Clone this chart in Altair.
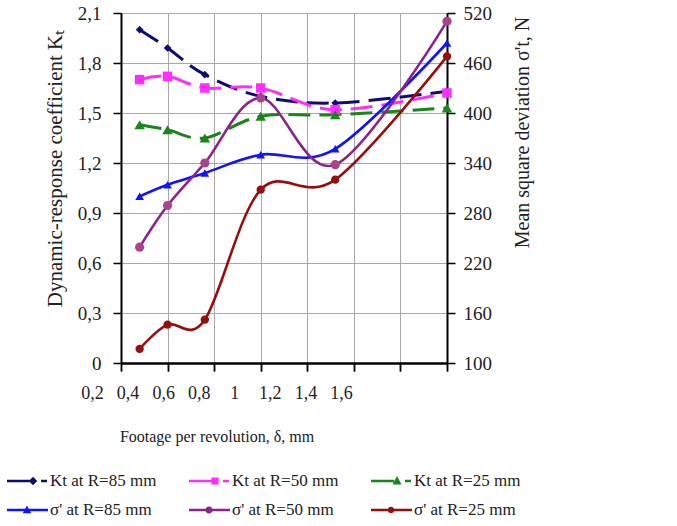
import altair as alt
import pandas as pd

# ---------------- data ----------------
x_vals = [0.28, 0.4, 0.56, 0.8, 1.12, 1.6]
kt_r85 = [2.00, 1.89, 1.73, 1.60, 1.56, 1.63]
kt_r50 = [1.70, 1.72, 1.65, 1.65, 1.52, 1.62]
kt_r25 = [1.43, 1.40, 1.35, 1.48, 1.49, 1.53]
sig_r85 = [300, 314, 328, 350, 357, 484]
sig_r50 = [239, 289, 340, 418, 338, 510]
sig_r25 = [117, 146, 152, 308, 320, 468]

series_names = ["Kt at R=85 mm", "Kt at R=50 mm", "Kt at R=25 mm",
                "σ' at R=85 mm", "σ' at R=50 mm", "σ' at R=25 mm"]
x_ticks = [0.2, 0.4, 0.6, 0.8, 1.0, 1.2, 1.4, 1.6]
left_ticks = [0, 0.3, 0.6, 0.9, 1.2, 1.5, 1.8, 2.1]
right_ticks = [100, 160, 220, 280, 340, 400, 460, 520]

kt_values = [kt_r85, kt_r50, kt_r25]
sig_values = [sig_r85, sig_r50, sig_r25]

kt_df = pd.DataFrame([{"series": series_names[i], "x": x, "value": v}
                      for i, vals in enumerate(kt_values) for x, v in zip(x_vals, vals)])
sig_df = pd.DataFrame([{"series": series_names[3 + i], "x": x, "value": v}
                       for i, vals in enumerate(sig_values) for x, v in zip(x_vals, vals)])
tick_df = pd.DataFrame({"x": x_ticks})
legend_df = pd.DataFrame({"series": series_names})

# ---------------- styles ----------------
FONT = "Liberation Serif"
line_colors = ["#0C0C72", "#FF2EFF", "#1C841C", "#1212FF", "#8A248A", "#970E0E"]
marker_colors = ["#0C0C72", "#FF2EFF", "#1C841C", "#1212FF", "#A8448C", "#970E0E"]
marker_shapes = ["diamond", "square", "triangle-up", "triangle-up", "circle", "circle"]
marker_sizes = [60, 90, 110, 75, 85, 70]
GRID = "#A8A8A8"
LABEL_EXPR = "replace(toString(round(datum.value*10)/10), '.', ',')"

x_scale = alt.Scale(domain=[0.2, 1.6], nice=False, zero=False)
x_axis = alt.Axis(values=x_ticks, labels=False, title=None, grid=True, gridColor=GRID,
                  gridWidth=1, domainColor="black", domainWidth=2, tickColor="black",
                  tickSize=8, tickWidth=1.5, orient="bottom")
left_axis = alt.Axis(values=left_ticks, orient="left", labelExpr=LABEL_EXPR,
                     labelFont=FONT, labelFontSize=19, labelColor="#222", labelPadding=12,
                     grid=True, gridColor=GRID, gridWidth=1, domainColor="black",
                     domainWidth=2, tickColor="black", tickSize=8, tickWidth=1.5,
                     title="Dynamic-response coefficient Kₜ", titleFont=FONT,
                     titleFontSize=21, titleFontWeight="normal", titleColor="#222",
                     titleAngle=270, titleAlign="center", titleBaseline="middle",
                     titleX=-66, titleY=155)
right_axis = alt.Axis(values=right_ticks, orient="right", labelFont=FONT, labelFontSize=19,
                      labelColor="#222", labelPadding=8, grid=False, domainColor="black",
                      domainWidth=2, tickColor="black", tickSize=8, tickWidth=1.5,
                      title="Mean square deviation σ't, N", titleFont=FONT,
                      titleFontSize=20, titleFontWeight="normal", titleColor="#222",
                      titleAngle=270, titleAlign="center", titleBaseline="middle",
                      titleX=75, titleY=119)


def series_layers(df, names, offset, y_enc, dashed):
    lines, points = [], []
    for i, name in enumerate(names):
        k = offset + i
        base = alt.Chart(df).transform_filter(alt.datum.series == name)
        line_kwargs = dict(color=line_colors[k], strokeWidth=3 if dashed else 2.6,
                           interpolate="cardinal")
        if dashed:
            line_kwargs["strokeDash"] = [22, 9]
        lines.append(base.mark_line(**line_kwargs).encode(
            x=alt.X("x:Q", scale=x_scale, axis=x_axis), y=y_enc))
        points.append(base.mark_point(filled=True, opacity=1, shape=marker_shapes[k],
                                      size=marker_sizes[k], color=marker_colors[k]).encode(
            x=alt.X("x:Q", scale=x_scale, axis=x_axis), y=y_enc))
    return lines, points


y_left = alt.Y("value:Q", scale=alt.Scale(domain=[0, 2.1], nice=False, zero=False),
               axis=left_axis)
y_right = alt.Y("value:Q", scale=alt.Scale(domain=[100, 520], nice=False, zero=False),
                axis=right_axis)

kt_lines, kt_points = series_layers(kt_df, series_names[:3], 0, y_left, True)
sig_lines, sig_points = series_layers(sig_df, series_names[3:], 3, y_right, False)

left_group = alt.layer(*kt_lines, *kt_points)
right_group = alt.layer(*sig_lines, *sig_points)

# x tick labels and title (placed as in the original figure)
xlab = alt.Chart(tick_df).mark_point(opacity=0).encode(
    x=alt.X("x:Q", scale=alt.Scale(domain=[0.2, 1.6], nice=False, zero=False,
                                   range=[-29, 220]),
            axis=alt.Axis(values=x_ticks, orient="bottom", domain=False, ticks=False,
                          grid=False, labelPadding=21, labelFont=FONT, labelFontSize=18,
                          labelColor="#222", labelFlush=False, labelExpr=LABEL_EXPR,
                          title="Footage per revolution, δ, mm", titleFont=FONT,
                          titleFontSize=16, titleFontWeight="normal", titleColor="#222",
                          titlePadding=26))
)


# legend symbols: line + marker (+ dash for dashed series)
def f(v):
    return f"{round(v, 3)}"


def rect(x0, x1, h):
    return f"M{f(x0)},{f(-h)}H{f(x1)}V{f(h)}H{f(x0)}Z"


def diamond(cx, r):
    return f"M{f(cx - r)},0L{f(cx)},{f(-r)}L{f(cx + r)},0L{f(cx)},{f(r)}Z"


def square(cx, r):
    return f"M{f(cx - r)},{f(-r)}H{f(cx + r)}V{f(r)}H{f(cx - r)}Z"


def tri(cx, r):
    return f"M{f(cx)},{f(-r * 1.1)}L{f(cx + r)},{f(r * 0.8)}L{f(cx - r)},{f(r * 0.8)}Z"


def circle(cx, r):
    return (f"M{f(cx - r)},0 A{f(r)},{f(r)} 0 1 1 {f(cx + r)},0 "
            f"A{f(r)},{f(r)} 0 1 1 {f(cx - r)},0Z")


dash_sym = lambda m: rect(-2.0, 0.3, 0.13) + m(0.6) + rect(1.4, 2.0, 0.13)
solid_sym = lambda m: rect(-2.0, 2.1, 0.12) + m(0.0)
legend_paths = [
    dash_sym(lambda c: diamond(c, 0.42)),
    dash_sym(lambda c: square(c, 0.36)),
    dash_sym(lambda c: tri(c, 0.45)),
    solid_sym(lambda c: tri(c, 0.42)),
    solid_sym(lambda c: circle(c, 0.36)),
    solid_sym(lambda c: circle(c, 0.33)),
]

legend_layer = alt.Chart(legend_df).transform_filter("false").mark_point(
    filled=True, size=400, opacity=1).encode(
    color=alt.Color("series:N", scale=alt.Scale(domain=series_names, range=line_colors),
                    legend=alt.Legend(title=None, orient="none", legendX=-104, legendY=458,
                                      direction="horizontal", columns=3, columnPadding=32,
                                      rowPadding=11, symbolSize=400, symbolStrokeWidth=0,
                                      symbolOpacity=1, labelFont=FONT, labelFontSize=17,
                                      labelColor="#222", labelOffset=13, labelLimit=300,
                                      padding=0)),
    shape=alt.Shape("series:N", scale=alt.Scale(domain=series_names, range=legend_paths)),
)

chart = alt.layer(left_group, right_group, xlab, legend_layer).resolve_scale(
    x="independent", y="independent", color="independent", shape="independent"
).properties(
    width=326, height=350,
    padding={"left": 121, "top": 13, "right": 230, "bottom": 163},
    autosize=alt.AutoSizeParams(type="none"),
    background="white",
).configure_view(stroke=None)

chart.save("out.html", embed_options={"renderer": "svg", "actions": False})
